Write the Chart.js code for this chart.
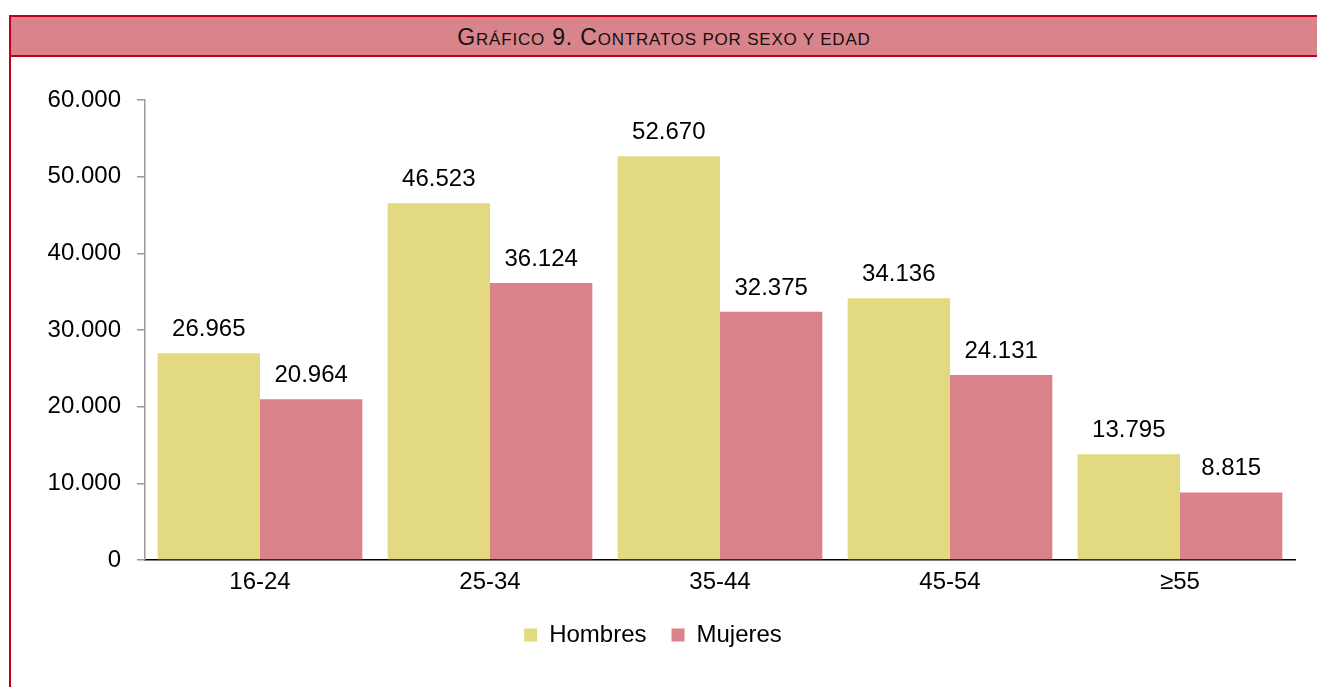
<!DOCTYPE html>
<html>
<head>
<meta charset="utf-8">
<script src="https://cdn.jsdelivr.net/npm/chart.js@4.4.0/dist/chart.umd.min.js"></script>
<style>
  html, body { margin: 0; padding: 0; background: #fff; }
  body { width: 1317px; height: 687px; position: relative; overflow: hidden; font-family: "Liberation Sans", Arial, sans-serif; }
  .frame { position: absolute; left: 9px; top: 15px; width: 1400px; height: 800px; border-top: 2px solid #c0001a; border-left: 2px solid #c0001a; }
  .title { height: 38px; line-height: 40px; background: #d9838b; border-bottom: 2px solid #c0001a; width: 1306px; text-align: center; color: #111; letter-spacing: 0.8px; white-space: nowrap; }
  .title .cap { font-size: 23px; }
  .title .sc { font-size: 17px; }
  .chart-box { position: absolute; left: 11px; top: 57px; width: 1306px; height: 630px; }
</style>
</head>
<body>
<div class="frame"><div class="title"><span class="cap">G</span><span class="sc">RÁFICO</span><span class="cap"> 9. C</span><span class="sc">ONTRATOS POR SEXO Y EDAD</span></div></div>
<div class="chart-box"><canvas id="sexAgeChart"></canvas></div>
<script>
// Contratos por sexo y edad
const ageGroups = ['16-24', '25-34', '35-44', '45-54', '≥55'];
const menValues = [26965, 46523, 52670, 34136, 13795];
const womenValues = [20964, 36124, 32375, 24131, 8815];
const yTicks = [0, 10000, 20000, 30000, 40000, 50000, 60000];

const FONT = '"Liberation Sans", Arial, sans-serif';

function formatThousands(n) {
    return String(n).replace(/\B(?=(\d{3})+(?!\d))/g, '.');
}

// draw the value above each bar
const barValueLabels = {
    id: 'barValueLabels',
    afterDatasetsDraw(chart) {
        const ctx = chart.ctx;
        ctx.save();
        ctx.font = '24px ' + FONT;
        ctx.fillStyle = '#000';
        ctx.textAlign = 'center';
        ctx.textBaseline = 'alphabetic';
        chart.data.datasets.forEach((ds, i) => {
            chart.getDatasetMeta(i).data.forEach((bar, j) => {
                ctx.fillText(formatThousands(ds.data[j]), bar.x, bar.y - 17);
            });
        });
        ctx.restore();
    }
};

const ctx = document.getElementById('sexAgeChart').getContext('2d');
new Chart(ctx, {
    type: 'bar',
    data: {
        labels: ageGroups,
        datasets: [
            { label: 'Hombres', data: menValues, backgroundColor: '#e2d980', borderWidth: 0 },
            { label: 'Mujeres', data: womenValues, backgroundColor: '#d9828a', borderWidth: 0 }
        ]
    },
    options: {
        responsive: true,
        maintainAspectRatio: false,
        animation: false,
        layout: { padding: { left: 0, right: 22, top: 43, bottom: 30 } },
        plugins: {
            tooltip: { enabled: false },
            legend: {
                position: 'bottom',
                labels: {
                    boxWidth: 13,
                    boxHeight: 13,
                    padding: 25,
                    color: '#000',
                    font: { size: 24, family: FONT }
                }
            }
        },
        datasets: {
            bar: { categoryPercentage: 0.89, barPercentage: 1.0 }
        },
        scales: {
            x: {
                grid: { display: false, drawTicks: false },
                border: { color: '#000', width: 1.5 },
                ticks: { color: '#000', padding: 8, font: { size: 24, family: FONT } },
                afterFit: scale => { scale.height = 38; }
            },
            y: {
                min: 0,
                max: 60000,
                afterBuildTicks: scale => { scale.ticks = yTicks.map(v => ({ value: v })); },
                grid: { drawOnChartArea: false, drawTicks: true, tickLength: 8, color: '#999', lineWidth: 1.5 },
                border: { color: '#999', width: 1.5 },
                ticks: {
                    color: '#000',
                    padding: 16,
                    font: { size: 24, family: FONT },
                    callback: v => formatThousands(v)
                },
                afterFit: scale => { scale.width = 134; }
            }
        }
    },
    plugins: [barValueLabels]
});
</script>
</body>
</html>
